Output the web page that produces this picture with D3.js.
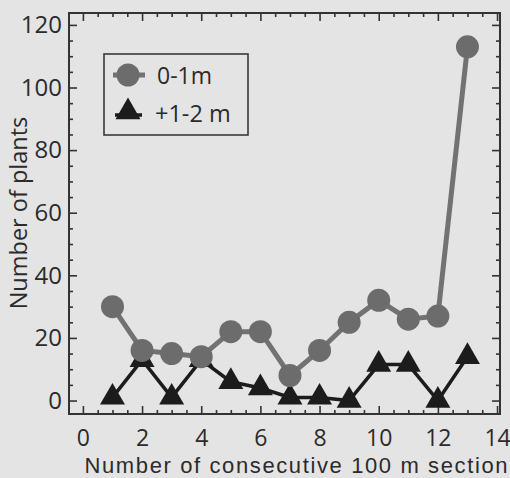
<!DOCTYPE html>
<html><head><meta charset="utf-8">
<script src="https://cdn.jsdelivr.net/npm/d3@7"></script>
<style>
html,body{margin:0;padding:0;background:#e4e4e4;}
svg{display:block;}
text{font-family:"Open Sans",sans-serif;fill:#2b2b2b;}
</style></head>
<body>
<script>
const sections = [1,2,3,4,5,6,7,8,9,10,11,12,13];
const series01 = [30,16,15,14,22,22,8,16,25,32,26,27,113];
const series12 = [1,13,1,13,6,4,1,1,0,11.5,11.5,0,14];
const seriesNames = ["0-1m","+1-2 m"];
const xTickValues = [0,2,4,6,8,10,12,14];
const yTickValues = [0,20,40,60,80,100,120];
const xTitle = "Number of consecutive 100 m section";
const yTitle = "Number of plants";

const W=510,H=478;
const L=69,R=500,T=13,B=414;
const svg=d3.select("body").append("svg").attr("width",W).attr("height",H);
svg.append("rect").attr("width",W).attr("height",H).attr("fill","#e4e4e4");

const x=d3.scaleLinear().domain([-0.47,14.1]).range([L,R]);
const y=d3.scaleLinear().domain([-4.3,123.8]).range([B,T]);

const axisColor="#333";
svg.append("rect").attr("x",L).attr("y",T).attr("width",R-L).attr("height",B-T)
  .attr("fill","none").attr("stroke",axisColor).attr("stroke-width",2);

const xMinor=d3.range(0,14.01,0.5).filter(v=>v%2!==0);
const yMinor=d3.range(0,121,5).filter(v=>v%20!==0);

function addAxis(gen,transform){
  const g=svg.append("g").attr("transform",transform).call(gen);
  g.select(".domain").remove();
  g.selectAll(".tick line").attr("stroke",axisColor).attr("stroke-width",1.6);
  return g;
}
const gb=addAxis(d3.axisBottom(x).tickValues(xTickValues).tickSize(-8).tickFormat(d3.format("d")),`translate(0,${B})`);
gb.selectAll(".tick text").attr("font-size",23).attr("fill","#2b2b2b").attr("dy",null).attr("y",32);
addAxis(d3.axisBottom(x).tickValues(xMinor).tickSize(-4).tickFormat(""),`translate(0,${B})`);
addAxis(d3.axisTop(x).tickValues(xTickValues).tickSize(-8).tickFormat(""),`translate(0,${T})`);
addAxis(d3.axisTop(x).tickValues(xMinor).tickSize(-4).tickFormat(""),`translate(0,${T})`);
const gl=addAxis(d3.axisLeft(y).tickValues(yTickValues).tickSize(-8).tickFormat(d3.format("d")),`translate(${L},0)`);
gl.selectAll(".tick text").attr("font-size",24).attr("fill","#2b2b2b").attr("x",-7);
addAxis(d3.axisLeft(y).tickValues(yMinor).tickSize(-4).tickFormat(""),`translate(${L},0)`);
addAxis(d3.axisRight(y).tickValues(yTickValues).tickSize(-8).tickFormat(""),`translate(${R},0)`);
addAxis(d3.axisRight(y).tickValues(yMinor).tickSize(-4).tickFormat(""),`translate(${R},0)`);

svg.append("text").attr("x",296).attr("y",473).attr("text-anchor","middle")
  .style("font-family","'Liberation Sans',Arial,sans-serif")
  .attr("font-size",22).attr("textLength",423).attr("lengthAdjust","spacing").text(xTitle);
svg.append("text").attr("transform","translate(27,213) rotate(-90)").attr("text-anchor","middle")
  .attr("font-size",23.5).text(yTitle);

const grayLine="#727272", grayFill="#6c6c6c", black="#1c1c1c";
const line=d3.line().x(d=>x(d[0])).y(d=>y(d[1]));
const d01=sections.map((s,i)=>[s,series01[i]]);
const d12=sections.map((s,i)=>[s,series12[i]]);
svg.append("path").attr("d",line(d12)).attr("fill","none").attr("stroke",black).attr("stroke-width",3.5);
svg.append("path").attr("d",line(d01)).attr("fill","none").attr("stroke",grayLine).attr("stroke-width",5);
const tri=d3.symbol().type(d3.symbolTriangle).size(270);
svg.selectAll(".tri").data(d12).join("path").attr("class","tri")
  .attr("transform",d=>`translate(${x(d[0])},${y(d[1])})`).attr("d",tri).attr("fill",black);
svg.selectAll(".circ").data(d01).join("circle").attr("class","circ")
  .attr("cx",d=>x(d[0])).attr("cy",d=>y(d[1])).attr("r",11.5).attr("fill",grayFill);

const lg=svg.append("g");
lg.append("rect").attr("x",104).attr("y",54).attr("width",144).attr("height",81)
  .attr("fill","#e4e4e4").attr("stroke","#3a3a3a").attr("stroke-width",1.6);
lg.append("line").attr("x1",113).attr("x2",145).attr("y1",75).attr("y2",75).attr("stroke",grayLine).attr("stroke-width",5);
lg.append("circle").attr("cx",128).attr("cy",75).attr("r",11.5).attr("fill",grayFill);
lg.append("line").attr("x1",115).attr("x2",142).attr("y1",115).attr("y2",115).attr("stroke",black).attr("stroke-width",3.5);
lg.append("path").attr("transform","translate(128,112)").attr("d",tri).attr("fill",black);
lg.append("text").attr("x",157).attr("y",84).attr("font-size",23).text(seriesNames[0]);
lg.append("text").attr("x",155).attr("y",122).attr("font-size",23.5).text(seriesNames[1]);
</script>
</body></html>
